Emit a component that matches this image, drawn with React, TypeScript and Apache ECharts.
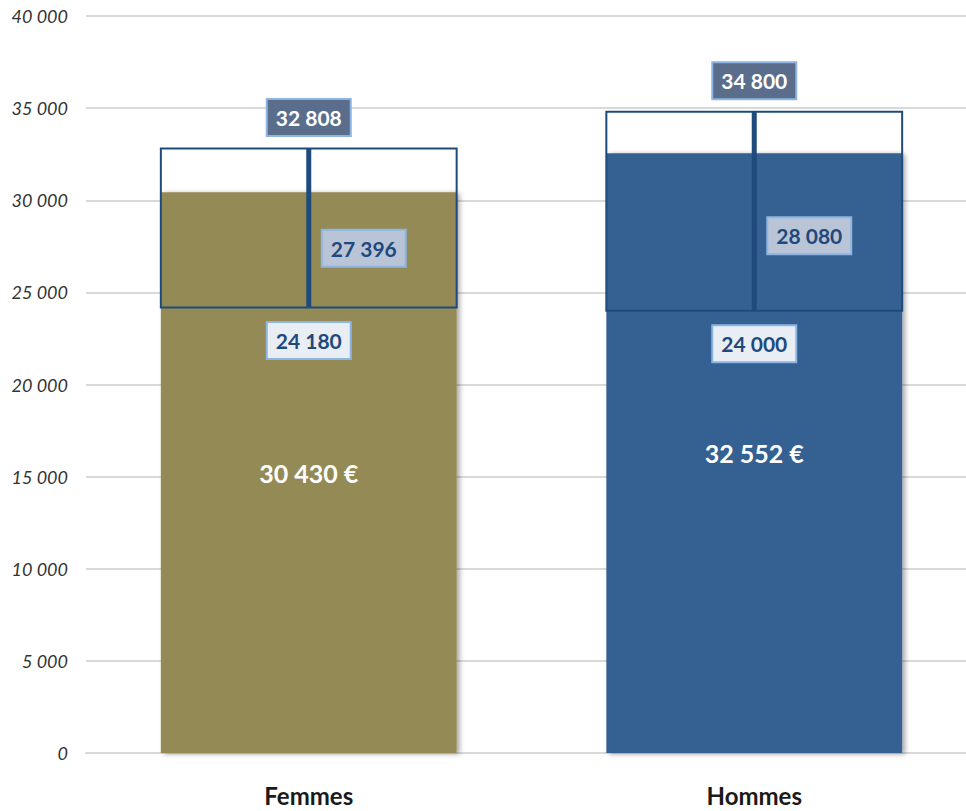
import React, { useEffect, useRef } from "react";
import * as echarts from "echarts";

const categories = ["Femmes", "Hommes"];
const meanValues = [30430, 32552];
const q1Values = [24180, 24000];
const medianValues = [27396, 28080];
const q3Values = [32808, 34800];
const barColors = ["#948A54", "#366092"];

const FONT = "Lato";
const fmt = (n: number) => String(n).replace(/\B(?=(\d{3})+(?!\d))/g, " ");

export default function App() {
  const ref = useRef<HTMLDivElement>(null);
  useEffect(() => {
    if (!ref.current) return;
    const chart = echarts.init(ref.current, null, { renderer: "svg" });
    const boxData = categories.map((_, i) => [i, q1Values[i], medianValues[i], q3Values[i]]);
    const barRatio = 0.664;
    chart.setOption({
      animation: false,
      grid: { left: 86, right: 0, top: 16, bottom: 58, containLabel: false },
      xAxis: {
        type: "category",
        data: categories,
        axisLine: { show: true, lineStyle: { color: "#D9D9D9", width: 2 } },
        axisTick: { show: false },
        axisLabel: {
          margin: 30,
          fontFamily: FONT,
          fontWeight: "bold",
          fontSize: 24,
          color: "#1a1a1a",
        },
      },
      yAxis: {
        type: "value",
        min: 0,
        max: 40000,
        interval: 5000,
        axisLine: { show: false },
        axisTick: { show: false },
        splitLine: { lineStyle: { color: "#D9D9D9", width: 2 } },
        axisLabel: {
          margin: 18,
          fontFamily: FONT,
          fontStyle: "italic",
          fontSize: 18,
          color: "#333333",
          formatter: (v: number) => fmt(v),
        },
      },
      series: [
        {
          type: "bar",
          barWidth: barRatio * 100 + "%",
          data: meanValues.map((v, i) => ({
            value: v,
            itemStyle: {
              color: barColors[i],
              shadowColor: "rgba(0,0,0,0.35)",
              shadowBlur: 5,
              shadowOffsetX: 3,
              shadowOffsetY: 1,
            },
          })),
          label: {
            show: true,
            position: "inside",
            formatter: (p: any) => fmt(p.value) + " €",
            color: "#FFFFFF",
            fontFamily: FONT,
            fontWeight: "bold",
            fontSize: 25,
          },
        },
        {
          type: "custom",
          data: boxData,
          encode: { x: 0, y: [1, 2, 3] },
          z: 5,
          renderItem: (params: any, api: any) => {
            const xi = api.value(0);
            const q1 = api.coord([xi, api.value(1)]);
            const med = api.coord([xi, api.value(2)]);
            const q3 = api.coord([xi, api.value(3)]);
            const w = api.size([1, 0])[0] * barRatio;
            const cx = q1[0];
            const stroke = "#1F4A7C";
            const labelBase = {
              fontFamily: FONT,
              fontWeight: "bold",
              fontSize: 21,
              lineHeight: 25,
              verticalAlign: "middle",
              borderColor: "#8DB4E2",
              borderWidth: 2,
              padding: [5, 8, 5, 8],
            };
            return {
              type: "group",
              children: [
                {
                  type: "rect",
                  shape: { x: cx - w / 2, y: q3[1], width: w, height: q1[1] - q3[1] },
                  style: { fill: "none", stroke, lineWidth: 2 },
                },
                {
                  type: "line",
                  shape: { x1: cx, y1: q3[1], x2: cx, y2: q1[1] },
                  style: { stroke, lineWidth: 5 },
                },
                {
                  type: "text",
                  x: cx,
                  y: q3[1] - 31,
                  style: {
                    ...labelBase,
                    text: fmt(api.value(3)),
                    align: "center",
                    fill: "#FFFFFF",
                    backgroundColor: "#5A6E8C",
                  },
                },
                {
                  type: "text",
                  x: cx + 14,
                  y: med[1],
                  style: {
                    ...labelBase,
                    text: fmt(api.value(2)),
                    align: "left",
                    fill: "#1F497D",
                    backgroundColor: "#B9C5D7",
                  },
                },
                {
                  type: "text",
                  x: cx,
                  y: q1[1] + 33,
                  style: {
                    ...labelBase,
                    text: fmt(api.value(1)),
                    align: "center",
                    fill: "#1F497D",
                    backgroundColor: "#E9EDF4",
                  },
                },
              ],
            };
          },
        },
      ],
    });
    return () => chart.dispose();
  }, []);
  return (
    <div
      style={{ position: "absolute", left: 0, top: 0, width: 966, height: 811, overflow: "hidden" }}
    >
      <div ref={ref} style={{ width: 977, height: 811 }} />
    </div>
  );
}
